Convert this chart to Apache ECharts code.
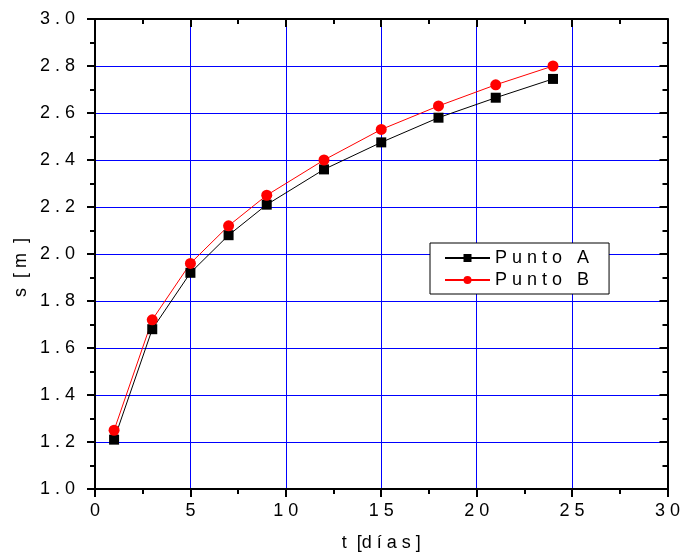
<!DOCTYPE html>
<html>
<head>
<meta charset="utf-8">
<script src="https://cdn.jsdelivr.net/npm/echarts@6/dist/echarts.min.js"></script>
<style>
  html, body { margin: 0; padding: 0; background: #fff; }
  #chart { width: 683px; height: 557px; }
</style>
</head>
<body>
<div id="chart"></div>
<script>
// t [días]
const dias = [1, 3, 5, 7, 9, 12, 15, 18, 21, 24]
// s [m]
const puntoA = [1.21, 1.68, 1.92, 2.08, 2.21, 2.36, 2.475, 2.58, 2.665, 2.745]
const puntoB = [1.25, 1.72, 1.96, 2.12, 2.25, 2.40, 2.53, 2.63, 2.72, 2.80]

const font = "'Liberation Sans', Arial, sans-serif"
const spaced = s => String(s).split('').join(' ')

const chart = echarts.init(document.getElementById('chart'))

// eje con marco: abajo/izq ticks hacia fuera, arriba/der ticks hacia dentro
function frameAxis(extra, inside){
  return Object.assign({
    type: 'value',
    axisLine: { show: true, onZero: false, lineStyle: { color: '#000', width: 2 } },
    axisTick: { show: true, inside: inside, length: 8, lineStyle: { color: '#000', width: 2 } },
    minorTick: { show: true, splitNumber: 2, length: 5, lineStyle: { color: '#000', width: 2 } },
    splitLine: { show: false },
    axisLabel: { show: false }
  }, extra)
}

const option = {
  animation: false,
  grid: { left: 95, right: 13, top: 19, bottom: 68 },
  xAxis: [
    frameAxis({
      min: 0, max: 30, interval: 5, position: 'bottom',
      axisLabel: { show: true, margin: 13, color: '#000', fontSize: 18, fontFamily: font, formatter: v => spaced(v) },
      splitLine: { show: true, lineStyle: { color: '#0000ff', width: 1 } },
      name: 't  [d í a s ]', nameLocation: 'middle', nameGap: 45,
      nameTextStyle: { color: '#000', fontSize: 18, fontFamily: font }
    }, false),
    frameAxis({ min: 0, max: 30, interval: 5, position: 'top' }, true)
  ],
  yAxis: [
    frameAxis({
      min: 1.0, max: 3.0, interval: 0.2, position: 'left',
      axisLabel: { show: true, margin: 20, color: '#000', fontSize: 18, fontFamily: font, formatter: v => spaced(v.toFixed(1)) },
      splitLine: { show: true, lineStyle: { color: '#0000ff', width: 1 } }
    }, false),
    frameAxis({ min: 1.0, max: 3.0, interval: 0.2, position: 'right' }, true)
  ],
  graphic: [{
    type: 'text',
    left: 12, top: 238,
    rotation: Math.PI / 2,
    style: { text: 's  [ m  ]', fontSize: 18, fontFamily: font, fill: '#000' }
  }],
  legend: {
    orient: 'vertical',
    left: 430, top: 243,
    padding: [6, 20, 5, 14],
    itemGap: 4,
    itemWidth: 45, itemHeight: 10,
    backgroundColor: '#fff',
    borderColor: '#000', borderWidth: 1, borderRadius: 0,
    textStyle: { color: '#000', fontSize: 18, fontFamily: font },
    formatter: n => spaced(n.replace('Punto ', 'Punto')).replace('o A', 'o   A').replace('o B', 'o   B'),
    data: ['Punto A', 'Punto B']
  },
  series: [
    {
      name: 'Punto A', type: 'line',
      data: dias.map((d, i) => [d, puntoA[i]]),
      symbol: 'rect', symbolSize: 10,
      lineStyle: { color: '#000', width: 1 },
      itemStyle: { color: '#000' }
    },
    {
      name: 'Punto B', type: 'line',
      data: dias.map((d, i) => [d, puntoB[i]]),
      symbol: 'circle', symbolSize: 11,
      lineStyle: { color: '#ff0000', width: 1 },
      itemStyle: { color: '#ff0000' }
    }
  ]
}

chart.setOption(option)
</script>
</body>
</html>
